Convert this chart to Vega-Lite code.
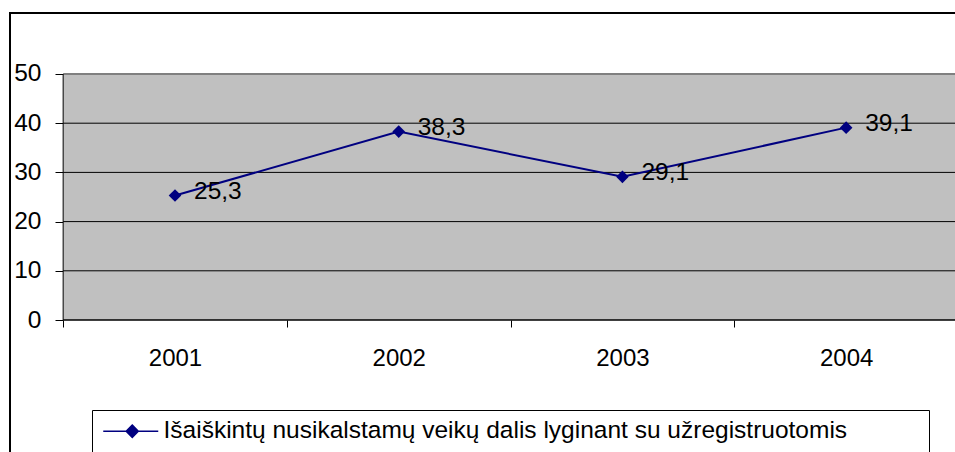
{
  "$schema": "https://vega.github.io/schema/vega-lite/v6.json",
  "width": 948,
  "height": 447,
  "autosize": {"type": "none"},
  "padding": {"left": 10, "top": 13, "right": 0, "bottom": 0},
  "background": "#ffffff",
  "config": {
    "view": {"stroke": "#000000", "strokeWidth": 2, "fill": "#ffffff"},
    "font": "Liberation Sans",
    "locale": {"number": {"decimal": ",", "thousands": ".", "grouping": [3], "currency": ["", " €"]}}
  },
  "data": {
    "values": [
      {"year": 2001, "v": 25.3, "series": "Išaiškintų nusikalstamų veikų dalis lyginant su užregistruotomis"},
      {"year": 2002, "v": 38.3, "series": "Išaiškintų nusikalstamų veikų dalis lyginant su užregistruotomis"},
      {"year": 2003, "v": 29.1, "series": "Išaiškintų nusikalstamų veikų dalis lyginant su užregistruotomis"},
      {"year": 2004, "v": 39.1, "series": "Išaiškintų nusikalstamų veikų dalis lyginant su užregistruotomis"}
    ]
  },
  "layer": [
    {
      "data": {"values": [{}]},
      "mark": {"type": "rect", "color": "#c0c0c0"},
      "encoding": {
        "x": {"datum": 2000.5, "type": "quantitative", "scale": {"domain": [2000.2624, 2004.5], "nice": false, "zero": false},
          "axis": {
            "orient": "bottom", "offset": -140, "domain": false, "grid": false, "title": null,
            "values": [2000.5, 2001, 2001.5, 2002, 2002.5, 2003, 2003.5, 2004, 2004.5],
            "labelExpr": "datum.value % 1 === 0 ? '' + datum.value : ''",
            "tickOpacity": {"condition": {"test": "datum.value % 1 === 0", "value": 0}, "value": 1},
            "tickColor": "#000000", "tickSize": 7, "tickWidth": 1,
            "labelFontSize": 24, "labelColor": "#000000", "labelPadding": 19,
            "labelOverlap": false, "labelFlush": false, "labelFont": "Liberation Sans"
          }},
        "x2": {"datum": 2004.5},
        "y": {"datum": 0, "type": "quantitative", "scale": {"domain": [-28.455, 62.398], "nice": false, "zero": false},
          "axis": {
            "orient": "left", "offset": -53, "domain": false, "grid": false, "title": null,
            "values": [0, 10, 20, 30, 40, 50],
            "tickColor": "#000000", "tickSize": 8, "tickWidth": 1,
            "labelFontSize": 24.5, "labelColor": "#000000", "labelPadding": 14,
            "labelOverlap": false, "labelFont": "Liberation Sans"
          }},
        "y2": {"datum": 50}
      }
    },
    {
      "data": {"values": [{"g": 10}, {"g": 20}, {"g": 30}, {"g": 40}]},
      "mark": {"type": "rule", "color": "#000000", "strokeWidth": 1},
      "encoding": {
        "y": {"field": "g", "type": "quantitative"},
        "x": {"datum": 2000.5, "type": "quantitative"},
        "x2": {"datum": 2004.5}
      }
    },
    {
      "data": {"values": [{}]},
      "mark": {"type": "rule", "color": "#808080", "strokeWidth": 2},
      "encoding": {
        "y": {"datum": 50, "type": "quantitative"},
        "x": {"datum": 2000.5, "type": "quantitative"},
        "x2": {"datum": 2004.5}
      }
    },
    {
      "data": {"values": [{}]},
      "mark": {"type": "rule", "color": "#000000", "strokeWidth": 1.5},
      "encoding": {
        "y": {"datum": 0, "type": "quantitative"},
        "x": {"datum": 2000.5, "type": "quantitative"},
        "x2": {"datum": 2004.5}
      }
    },
    {
      "data": {"values": [{}]},
      "mark": {"type": "rule", "color": "#000000", "strokeWidth": 1},
      "encoding": {
        "x": {"datum": 2000.5, "type": "quantitative"},
        "y": {"datum": 0, "type": "quantitative"},
        "y2": {"datum": 50}
      }
    },
    {
      "mark": {"type": "line", "strokeWidth": 2},
      "encoding": {
        "x": {"field": "year", "type": "quantitative"},
        "y": {"field": "v", "type": "quantitative"},
        "color": {
          "field": "series", "type": "nominal",
          "scale": {"range": ["#000080"]},
          "legend": {
            "orient": "none", "legendX": 82, "legendY": 397,
            "title": ".", "titleOrient": "right", "titlePadding": 72,
            "titleFontSize": 2, "titleColor": "#ffffff",
            "padding": 9,
            "strokeColor": "#000000", "fillColor": "#ffffff",
            "symbolType": "M-1,0H4.5M1.9,-0.62L2.5,0L1.9,0.62L1.3,0Z",
            "symbolSize": 400, "symbolStrokeWidth": 1.6,
            "symbolFillColor": "#000080", "symbolStrokeColor": "#000080",
            "labelFontSize": 24.5, "labelFont": "Liberation Sans", "labelColor": "#000000",
            "labelOffset": 38, "labelLimit": 0
          }
        }
      }
    },
    {
      "mark": {"type": "point", "shape": "diamond", "filled": true, "size": 160, "opacity": 1, "color": "#000080"},
      "encoding": {
        "x": {"field": "year", "type": "quantitative"},
        "y": {"field": "v", "type": "quantitative"}
      }
    },
    {
      "mark": {"type": "text", "align": "left", "baseline": "middle", "dx": 19, "dy": -4, "fontSize": 24.5, "font": "Liberation Sans", "color": "#000000"},
      "encoding": {
        "x": {"field": "year", "type": "quantitative"},
        "y": {"field": "v", "type": "quantitative"},
        "text": {"field": "v", "type": "quantitative", "format": ".1f"}
      }
    }
  ]
}
